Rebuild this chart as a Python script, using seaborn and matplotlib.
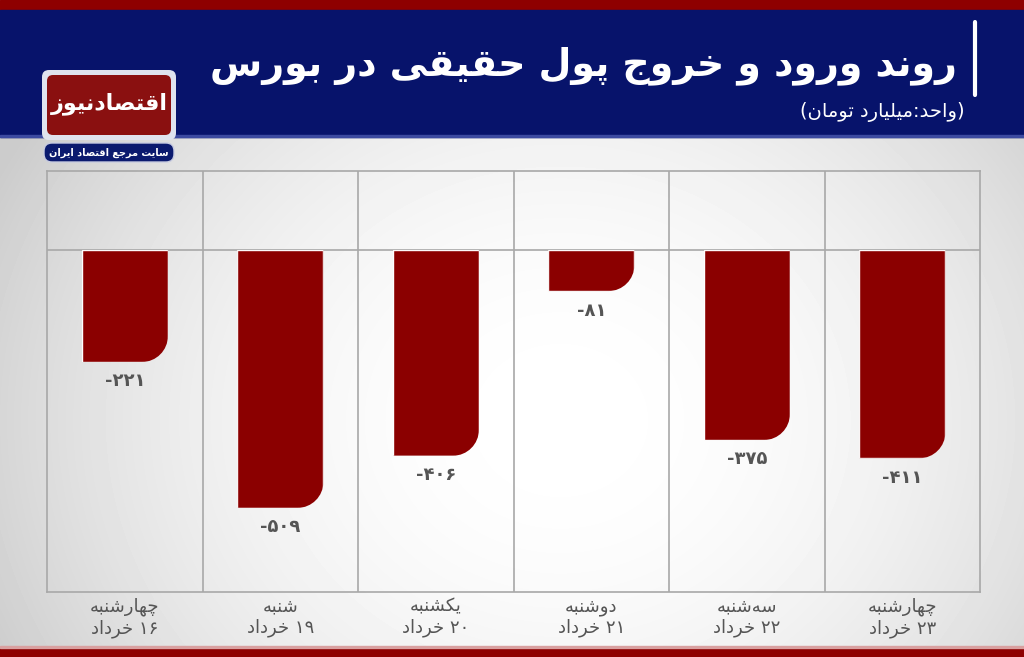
import numpy as np
import matplotlib
matplotlib.use("Agg")
import matplotlib.pyplot as plt
from matplotlib.patches import Rectangle, FancyBboxPatch, PathPatch
from matplotlib.path import Path
import seaborn as sns
import pandas as pd

# ---------------- data ----------------
days = ["چهارشنبه", "شنبه", "یکشنبه", "دوشنبه", "سه‌شنبه", "چهارشنبه"]
dates = ["۱۶ خرداد", "۱۹ خرداد", "۲۰ خرداد", "۲۱ خرداد", "۲۲ خرداد", "۲۳ خرداد"]
values = [-221, -509, -406, -81, -375, -411]
title = "روند ورود و خروج پول حقیقی در بورس"
subtitle = "(واحد:میلیارد تومان)"
logo_text = "اقتصادنیوز"
logo_sub = "سایت مرجع اقتصاد ایران"

# ---------------- minimal Arabic/Persian shaping ----------------
DUAL = {
    'ب': 'ﺏﺐﺑﺒ', 'پ': 'ﭖﭗﭘﭙ', 'ت': 'ﺕﺖﺗﺘ', 'ث': 'ﺙﺚﺛﺜ', 'ج': 'ﺝﺞﺟﺠ',
    'چ': 'ﭺﭻﭼﭽ', 'ح': 'ﺡﺢﺣﺤ', 'خ': 'ﺥﺦﺧﺨ', 'س': 'ﺱﺲﺳﺴ', 'ش': 'ﺵﺶﺷﺸ',
    'ص': 'ﺹﺺﺻﺼ', 'ض': 'ﺽﺾﺿﻀ', 'ط': 'ﻁﻂﻃﻄ', 'ظ': 'ﻅﻆﻇﻈ', 'ع': 'ﻉﻊﻋﻌ',
    'غ': 'ﻍﻎﻏﻐ', 'ف': 'ﻑﻒﻓﻔ', 'ق': 'ﻕﻖﻗﻘ', 'ک': 'ﮎﮏﮐﮑ', 'گ': 'ﮒﮓﮔﮕ',
    'ل': 'ﻝﻞﻟﻠ', 'م': 'ﻡﻢﻣﻤ', 'ن': 'ﻥﻦﻧﻨ', 'ه': 'ﻩﻪﻫﻬ', 'ی': 'ﯼﯽﯾﯿ',
    'ي': 'ﻱﻲﻳﻴ',
}
RIGHT = {
    'ا': 'ﺍﺎ', 'آ': 'ﺁﺂ', 'د': 'ﺩﺪ', 'ذ': 'ﺫﺬ', 'ر': 'ﺭﺮ', 'ز': 'ﺯﺰ',
    'ژ': 'ﮊﮋ', 'و': 'ﻭﻮ',
}
DIGITS = set("0123456789۰۱۲۳۴۵۶۷۸۹")
MIRROR = {'(': ')', ')': '('}


def shape(text):
    chars = list(text)
    out = []
    for i, c in enumerate(chars):
        prev = chars[i - 1] if i > 0 else None
        nxt = chars[i + 1] if i + 1 < len(chars) else None
        pj = prev in DUAL
        nj = (nxt in DUAL) or (nxt in RIGHT)
        if c in DUAL:
            f = DUAL[c]
            if pj and nj:
                out.append(f[3])
            elif pj:
                out.append(f[1])
            elif nj:
                out.append(f[2])
            else:
                out.append(f[0])
        elif c in RIGHT:
            out.append(RIGHT[c][1] if pj else RIGHT[c][0])
        elif c == '\u200c':
            continue
        else:
            out.append(MIRROR.get(c, c))
    out = out[::-1]
    # keep digit runs left-to-right
    res, i = [], 0
    while i < len(out):
        if out[i] in DIGITS:
            j = i
            while j < len(out) and out[j] in DIGITS:
                j += 1
            res.extend(out[i:j][::-1])
            i = j
        else:
            res.append(out[i])
            i += 1
    return "".join(res)


FA = str.maketrans("0123456789", "۰۱۲۳۴۵۶۷۸۹")


def fa_num(v):
    return ("-" if v < 0 else "") + str(abs(v)).translate(FA)


# ---------------- figure ----------------
sns.set_theme(style="white")
plt.rcParams['font.family'] = ['DejaVu Sans']

W, H = 1024, 657
fig = plt.figure(figsize=(W / 100, H / 100), dpi=100)

# background / decoration axes in pixel coordinates
bg = fig.add_axes([0, 0, 1, 1], zorder=-10)
bg.set_xlim(0, W)
bg.set_ylim(H, 0)
bg.axis("off")
yy, xx = np.mgrid[0:H, 0:W]
grad = 1.0 - 0.16 * ((xx - 560) / 560.0) ** 2 - 0.06 * ((yy - 420) / 300.0) ** 2
grad = np.clip(grad, 0.8, 1.0)
bg.imshow(grad, cmap="gray", vmin=0, vmax=1, extent=(0, W, H, 0), aspect="auto", zorder=0)

# header
bg.add_patch(Rectangle((0, 0), W, 10, color="#8e0000", zorder=1))
bg.add_patch(Rectangle((0, 10), W, 127, color="#07136b", zorder=1))
bg.add_patch(Rectangle((0, 135), W, 2, color="#3c4aa0", zorder=1))
# bottom stripe
bg.add_patch(Rectangle((0, 648), W, 9, color="#8e0000", zorder=1))
bg.add_patch(Rectangle((0, 646), W, 2, color="#d9a0a0", zorder=1))

# title bar line
bg.plot([975, 975], [22, 95], color="white", lw=3, solid_capstyle="round", zorder=3)
bg.text(957, 66, shape(title), color="white", fontsize=27.3, fontweight="bold",
        ha="right", va="center", zorder=3)
bg.text(965, 112, shape(subtitle), color="white", fontsize=14,
        ha="right", va="center", zorder=3)

# logo
bg.add_patch(FancyBboxPatch((42, 70), 134, 70, boxstyle="round,pad=0,rounding_size=7",
                            fc="#dfe3ee", ec="none", zorder=3))
bg.add_patch(FancyBboxPatch((47, 75), 124, 60, boxstyle="round,pad=0,rounding_size=6",
                            fc="#8a1010", ec="none", zorder=4))
bg.text(109, 104, shape(logo_text), color="white", fontsize=16, fontweight="bold",
        ha="center", va="center", zorder=5)
bg.add_patch(FancyBboxPatch((44, 143), 130, 19, boxstyle="round,pad=0,rounding_size=8",
                            fc="#0b1a6e", ec="#c8cce0", lw=1, zorder=4))
bg.text(109, 153, shape(logo_sub), color="white", fontsize=7, fontweight="bold",
        ha="center", va="center", zorder=5)

# ---------------- main chart ----------------
left, right = 47 / W, 980 / W
bottom, top = 1 - 592 / H, 1 - 171 / H
ax = fig.add_axes([left, bottom, right - left, top - bottom], zorder=1)
ax.set_facecolor("none")

labels = [shape(d) + "\n" + shape(t) for d, t in zip(days, dates)]
df = pd.DataFrame({"label": labels, "value": values})
sns.barplot(data=df, x="label", y="value", color="#8b0000", saturation=1,
            width=0.555, ax=ax, zorder=3)

ax.set_xlim(-0.5, len(values) - 0.5)
ax.set_ylim(-675, 156)
ax.set_xlabel("")
ax.set_ylabel("")
ax.set_yticks([])
ax.tick_params(axis="x", length=0, pad=4, labelsize=13, labelcolor="#555555")
for s in ax.spines.values():
    s.set_visible(True)
    s.set_color("#a8a8a8")
    s.set_linewidth(1.2)
for i in range(1, len(values)):
    ax.axvline(i - 0.5, color="#a8a8a8", lw=1.2, zorder=1)
ax.axhline(0, color="#a8a8a8", lw=1.2, zorder=1)

# rounded bottom-right corner via clip path, and value labels
fig.canvas.draw()
inv = ax.transData.inverted()
p0 = inv.transform((0, 0))
p1 = inv.transform((26, 26))
rx = abs(p1[0] - p0[0])
ry = abs(p1[1] - p0[1])
k = 0.5523
for patch, v in zip(ax.patches, values):
    x0 = patch.get_x()
    w = patch.get_width()
    y_top = patch.get_y()
    hgt = patch.get_height()
    yb = min(y_top, y_top + hgt)
    yt = max(y_top, y_top + hgt)
    x1 = x0 + w
    r_y = min(ry, (yt - yb))
    verts = [(x0, yt), (x1, yt), (x1, yb + r_y),
             (x1, yb + r_y * (1 - k)), (x1 - rx * (1 - k), yb), (x1 - rx, yb),
             (x0, yb), (x0, yt)]
    codes = [Path.MOVETO, Path.LINETO, Path.LINETO,
             Path.CURVE4, Path.CURVE4, Path.CURVE4,
             Path.LINETO, Path.CLOSEPOLY]
    clip = PathPatch(Path(verts, codes), transform=ax.transData, fc="none", ec="none")
    patch.set_clip_path(clip)
    ax.annotate(fa_num(v), xy=(x0 + w / 2, yb), xytext=(0, -14), textcoords="offset points",
                ha="center", va="center", fontsize=13, fontweight="bold", color="#555555")

fig.savefig("out.png", dpi=100)
